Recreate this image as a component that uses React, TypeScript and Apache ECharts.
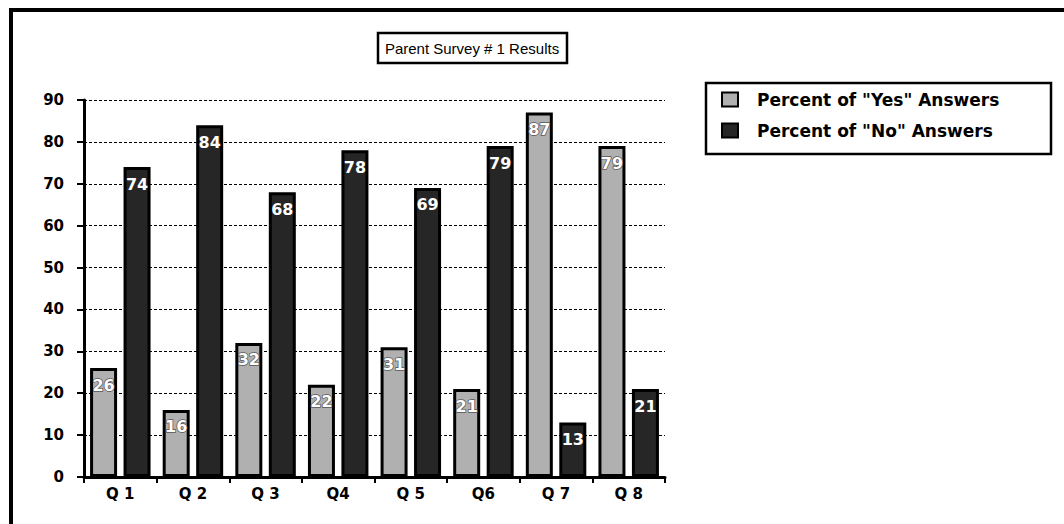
import React, { useEffect, useRef } from "react";
import * as echarts from "echarts";

const categories = ["Q 1", "Q 2", "Q 3", "Q4", "Q 5", "Q6", "Q 7", "Q 8"];
const yesValues = [26, 16, 32, 22, 31, 21, 87, 79];
const noValues = [74, 84, 68, 78, 69, 79, 13, 21];
const seriesNames = ['Percent of "Yes" Answers', 'Percent of "No" Answers'];
const titleText = "Parent Survey # 1 Results";

const FONT = "DejaVu Sans";

export default function App() {
  const ref = useRef<HTMLDivElement>(null);
  useEffect(() => {
    if (!ref.current) return;
    const chart = echarts.init(ref.current, null, { renderer: "svg" });
    const labelBase = {
      show: true,
      position: "insideTop",
      distance: 9,
      color: "#ffffff",
      fontFamily: FONT,
      fontWeight: "bold",
      fontSize: 16,
    };
    chart.setOption({
      animation: false,
      backgroundColor: "#ffffff",
      grid: { left: 84, top: 100, width: 581, height: 377, containLabel: false },
      legend: {
        left: 721,
        top: 91,
        padding: 0,
        orient: "vertical",
        itemWidth: 16,
        itemHeight: 14,
        itemGap: 14,
        icon: "rect",
        textStyle: {
          fontFamily: FONT,
          fontWeight: "bold",
          fontSize: 17,
          color: "#000",
          padding: [0, 0, 0, 14],
        },
        data: seriesNames,
      },
      xAxis: {
        type: "category",
        data: categories,
        axisLine: { lineStyle: { color: "#000", width: 3 } },
        axisTick: { show: true, length: 6, lineStyle: { color: "#000", width: 2 } },
        axisLabel: {
          color: "#000",
          fontFamily: FONT,
          fontWeight: "bold",
          fontSize: 15,
          margin: 9,
        },
      },
      yAxis: {
        type: "value",
        min: 0,
        max: 90,
        interval: 10,
        axisLine: { show: true, lineStyle: { color: "#000", width: 3 } },
        axisTick: { show: true, length: 7, lineStyle: { color: "#000", width: 2 } },
        axisLabel: {
          color: "#000",
          fontFamily: FONT,
          fontWeight: "bold",
          fontSize: 15,
          margin: 20,
        },
        splitLine: { show: true, lineStyle: { color: "#000", width: 1, type: [3, 2] } },
      },
      series: [
        {
          name: seriesNames[0],
          type: "bar",
          data: yesValues,
          barWidth: 27,
          barGap: "24%",
          itemStyle: { color: "#b0b0b0", borderColor: "#000", borderWidth: 3 },
          label: { ...labelBase, textBorderColor: "#555", textBorderWidth: 1.5 },
        },
        {
          name: seriesNames[1],
          type: "bar",
          data: noValues,
          barWidth: 27,
          itemStyle: { color: "#262626", borderColor: "#000", borderWidth: 3 },
          label: { ...labelBase },
        },
      ],
      graphic: [
        {
          type: "line",
          shape: { x1: 9, y1: 10, x2: 1064, y2: 10 },
          style: { stroke: "#000", lineWidth: 4 },
        },
        {
          type: "line",
          shape: { x1: 11, y1: 8, x2: 11, y2: 524 },
          style: { stroke: "#000", lineWidth: 4 },
        },
        {
          type: "rect",
          shape: { x: 378, y: 33, width: 189, height: 30 },
          style: { fill: "#fff", stroke: "#000", lineWidth: 2.5 },
        },
        {
          type: "text",
          x: 472,
          y: 48,
          style: {
            text: titleText,
            fontFamily: "Liberation Sans",
            fontSize: 15,
            fill: "#000",
            align: "center",
            verticalAlign: "middle",
          },
        },
        {
          type: "rect",
          shape: { x: 706, y: 83, width: 345, height: 71 },
          style: { fill: "none", stroke: "#000", lineWidth: 2.5 },
        },
      ],
    });
    return () => chart.dispose();
  }, []);
  return (
    <div
      ref={ref}
      style={{ position: "fixed", left: 0, top: 0, width: 1064, height: 524 }}
    />
  );
}
